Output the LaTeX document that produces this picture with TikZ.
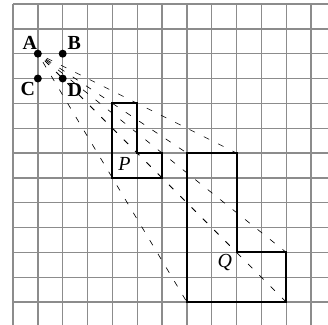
\documentclass[tikz,border=0pt]{standalone}
\usepackage{fontspec}
\setmainfont{Liberation Serif}
\usepackage{tikz}
\usetikzlibrary{positioning}
\definecolor{gridgray}{gray}{0.55}

\begin{document}
\begin{tikzpicture}[scale=0.7,
        gridline/.style={draw=gridgray,line width=1.1pt},
        figline/.style={draw=black,line width=1.5pt},
        ray/.style={draw=black,line width=0.5pt,dash pattern=on 4.8pt off 8pt,dash phase=4.8pt},
        dot/.style={circle,fill=black,inner sep=0pt,minimum size=6.4pt},
        ptlabel/.style={font=\fontsize{16}{18}\selectfont\bfseries,inner sep=0pt},
        figlabel/.style={font=\fontsize{16}{18}\selectfont\itshape,inner sep=0pt}]
      \useasboundingbox (-0.523,-12.92) rectangle (12.68,0.16);
      % squared paper
      \draw[gridline] (0,-12.92) grid (12.68,0);
      % centre points
      \node[dot] (A) at (1,-2) {};
      \node[dot] (B) at (2,-2) {};
      \node[dot] (C) at (1,-3) {};
      \node[dot] (D) at (2,-3) {};
      % corners of the image Q
      \coordinate (q1) at (7,-6);
      \coordinate (q2) at (9,-6);
      \coordinate (q3) at (9,-10);
      \coordinate (q4) at (11,-10);
      \coordinate (q5) at (11,-12);
      \coordinate (q6) at (7,-12);
      % rays from A
      \draw[ray] (A.center) -- (q1);
      \draw[ray] (A.center) -- (q2);
      \draw[ray] (A.center) -- (q3);
      \draw[ray] (A.center) -- (q4);
      \draw[ray] (A.center) -- (q5);
      \draw[ray] (A.center) -- (q6);
      % shape P
      \draw[figline] (4,-4) -- (5,-4) -- (5,-6) -- (6,-6) -- (6,-7) -- (4,-7) -- cycle;
      % shape Q
      \draw[figline] (q1) -- (q2) -- (q3) -- (q4) -- (q5) -- (q6) -- cycle;
      % labels
      \node[ptlabel] (labA) at (0.68,-1.57) {A};
      \node[ptlabel] (labB) at (2.47,-1.57) {B};
      \node[ptlabel] (labC) at (0.6,-3.43) {C};
      \node[ptlabel] (labD) at (2.49,-3.47) {D};
      \node[figlabel] (labP) at (4.49,-6.43) {P};
      \node[figlabel] (labQ) at (8.53,-10.4) {Q};
    \end{tikzpicture}
\end{document}
